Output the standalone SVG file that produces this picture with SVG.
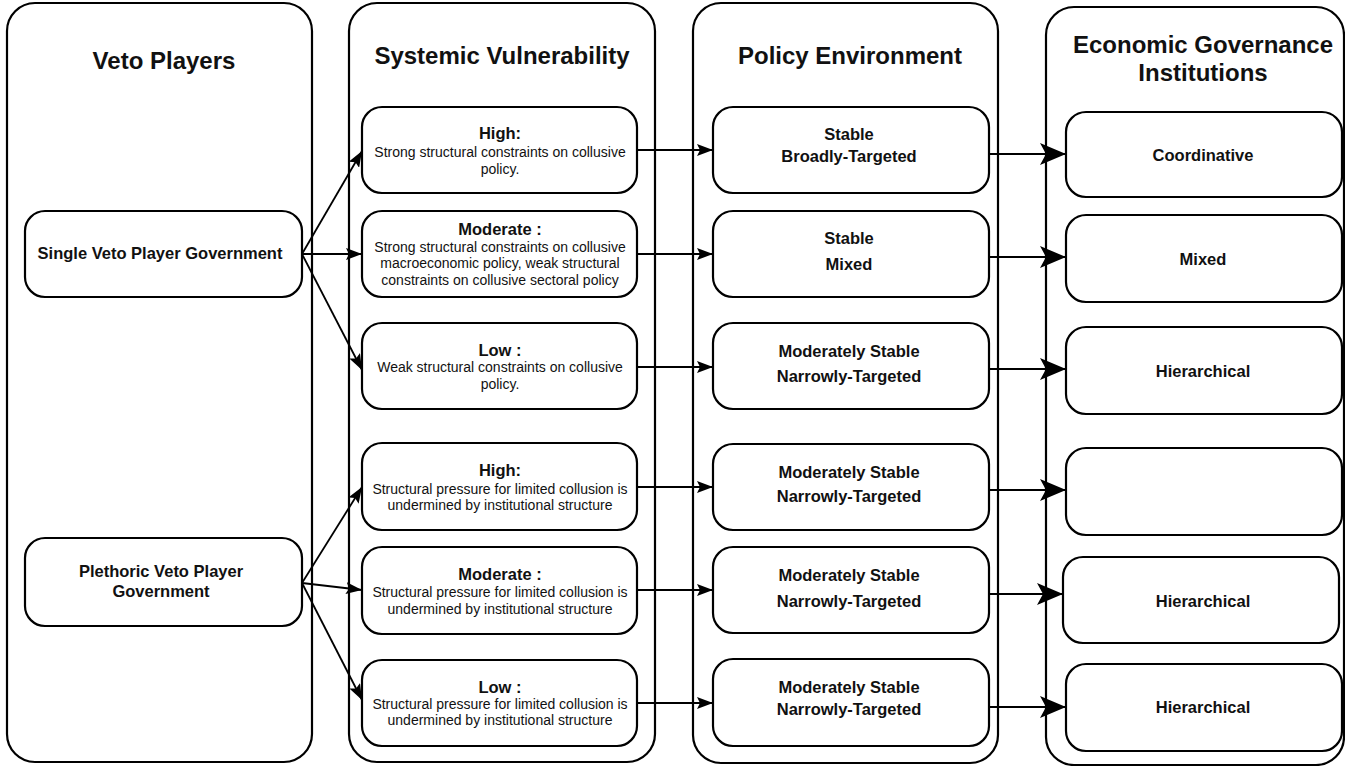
<svg xmlns="http://www.w3.org/2000/svg" width="1345" height="766" viewBox="0 0 1345 766">
<style>
.col{fill:#fff;stroke:#000;stroke-width:2.2}
.box{fill:#fff;stroke:#000;stroke-width:2.2}
.t{font-family:"Liberation Sans",Arial,sans-serif;fill:#111;text-anchor:middle}
.h{font-size:24px;font-weight:bold}
.b{font-size:16.5px;font-weight:bold}
.r{font-size:14px}
.c{fill:none;stroke:#000;stroke-width:1.8}
</style>
<defs>
<marker id="as" markerUnits="userSpaceOnUse" markerWidth="17" markerHeight="12" refX="16" refY="6" orient="auto" viewBox="0 0 17 12">
<path d="M0,0 L16,6 L0,12 L3,6 Z" fill="#000"/>
</marker>
<marker id="al" markerUnits="userSpaceOnUse" markerWidth="27" markerHeight="22" refX="26" refY="11" orient="auto" viewBox="0 0 27 22">
<path d="M0,0 L26,11 L0,22 L6,11 Z" fill="#000"/>
</marker>
</defs>
<rect width="1345" height="766" fill="#fff"/>

<g id="col-veto">
<rect class="col" x="7" y="3" width="305" height="759" rx="28"/>
<text class="t h" x="164" y="69">Veto Players</text>
</g>
<g id="col-vuln">
<rect class="col" x="349" y="3" width="306" height="759" rx="28"/>
<text class="t h" x="502" y="64">Systemic Vulnerability</text>
</g>
<g id="col-policy">
<rect class="col" x="693" y="3" width="305" height="760" rx="28"/>
<text class="t h" x="850" y="64">Policy Environment</text>
</g>
<g id="col-inst">
<rect class="col" x="1046" y="7" width="298" height="758" rx="28"/>
<text class="t h" x="1203" y="53">Economic Governance</text>
<text class="t h" x="1203" y="81">Institutions</text>
</g>

<g id="single">
<rect class="box" x="25" y="211" width="277" height="86" rx="20"/>
<text class="t b" x="160" y="259">Single Veto Player Government</text>
</g>
<g id="plethoric">
<rect class="box" x="25" y="538" width="277" height="88" rx="20"/>
<text class="t b" x="161" y="577">Plethoric Veto Player</text>
<text class="t b" x="161" y="597">Government</text>
</g>

<g id="sv-high1">
<rect class="box" x="362" y="107" width="275" height="86" rx="20"/>
<text class="t b" x="500" y="139">High:</text>
<text class="t r" x="500" y="157">Strong structural constraints on collusive</text>
<text class="t r" x="500" y="174">policy.</text>
</g>
<g id="sv-mod1">
<rect class="box" x="362" y="211" width="275" height="86" rx="20"/>
<text class="t b" x="500" y="235">Moderate :</text>
<text class="t r" x="500" y="252">Strong structural constraints on collusive</text>
<text class="t r" x="500" y="268">macroeconomic policy, weak structural</text>
<text class="t r" x="500" y="285">constraints on collusive sectoral policy</text>
</g>
<g id="sv-low1">
<rect class="box" x="362" y="323" width="275" height="86" rx="20"/>
<text class="t b" x="500" y="356">Low :</text>
<text class="t r" x="500" y="372">Weak structural constraints on collusive</text>
<text class="t r" x="500" y="389">policy.</text>
</g>
<g id="sv-high2">
<rect class="box" x="362" y="443" width="275" height="87" rx="20"/>
<text class="t b" x="500" y="476">High:</text>
<text class="t r" x="500" y="494">Structural pressure for limited collusion is</text>
<text class="t r" x="500" y="510">undermined by institutional structure</text>
</g>
<g id="sv-mod2">
<rect class="box" x="362" y="547" width="275" height="87" rx="20"/>
<text class="t b" x="500" y="580">Moderate :</text>
<text class="t r" x="500" y="597">Structural pressure for limited collusion is</text>
<text class="t r" x="500" y="614">undermined by institutional structure</text>
</g>
<g id="sv-low2">
<rect class="box" x="362" y="660" width="275" height="86" rx="20"/>
<text class="t b" x="500" y="693">Low :</text>
<text class="t r" x="500" y="709">Structural pressure for limited collusion is</text>
<text class="t r" x="500" y="725">undermined by institutional structure</text>
</g>

<g id="pe-1">
<rect class="box" x="713" y="107" width="276" height="86" rx="20"/>
<text class="t b" x="849" y="140">Stable</text>
<text class="t b" x="849" y="162">Broadly-Targeted</text>
</g>
<g id="pe-2">
<rect class="box" x="713" y="211" width="276" height="86" rx="20"/>
<text class="t b" x="849" y="244">Stable</text>
<text class="t b" x="849" y="270">Mixed</text>
</g>
<g id="pe-3">
<rect class="box" x="713" y="323" width="276" height="86" rx="20"/>
<text class="t b" x="849" y="357">Moderately Stable</text>
<text class="t b" x="849" y="382">Narrowly-Targeted</text>
</g>
<g id="pe-4">
<rect class="box" x="713" y="444" width="276" height="86" rx="20"/>
<text class="t b" x="849" y="478">Moderately Stable</text>
<text class="t b" x="849" y="502">Narrowly-Targeted</text>
</g>
<g id="pe-5">
<rect class="box" x="713" y="547" width="276" height="86" rx="20"/>
<text class="t b" x="849" y="581">Moderately Stable</text>
<text class="t b" x="849" y="607">Narrowly-Targeted</text>
</g>
<g id="pe-6">
<rect class="box" x="713" y="659" width="276" height="87" rx="20"/>
<text class="t b" x="849" y="693">Moderately Stable</text>
<text class="t b" x="849" y="715">Narrowly-Targeted</text>
</g>

<g id="gi-1">
<rect class="box" x="1066" y="112" width="276" height="85" rx="20"/>
<text class="t b" x="1203" y="161">Coordinative</text>
</g>
<g id="gi-2">
<rect class="box" x="1066" y="215" width="276" height="87" rx="20"/>
<text class="t b" x="1203" y="265">Mixed</text>
</g>
<g id="gi-3">
<rect class="box" x="1066" y="327" width="276" height="87" rx="20"/>
<text class="t b" x="1203" y="377">Hierarchical</text>
</g>
<g id="gi-4">
<rect class="box" x="1066" y="448" width="276" height="87" rx="20"/>
</g>
<g id="gi-5">
<rect class="box" x="1063" y="557" width="276" height="86" rx="20"/>
<text class="t b" x="1203" y="607">Hierarchical</text>
</g>
<g id="gi-6">
<rect class="box" x="1066" y="664" width="276" height="87" rx="20"/>
<text class="t b" x="1203" y="713">Hierarchical</text>
</g>

<g id="connectors">
<line class="c" x1="302" y1="254" x2="362" y2="151" marker-end="url(#as)"/>
<line class="c" x1="302" y1="254" x2="362" y2="254" marker-end="url(#as)"/>
<line class="c" x1="302" y1="254" x2="362" y2="370" marker-end="url(#as)"/>
<line class="c" x1="302" y1="583" x2="362" y2="487" marker-end="url(#as)"/>
<line class="c" x1="302" y1="583" x2="362" y2="590" marker-end="url(#as)"/>
<line class="c" x1="302" y1="583" x2="362" y2="700" marker-end="url(#as)"/>

<line class="c" x1="637" y1="150" x2="713" y2="150" marker-end="url(#as)"/>
<line class="c" x1="637" y1="254" x2="713" y2="254" marker-end="url(#as)"/>
<line class="c" x1="637" y1="367" x2="713" y2="367" marker-end="url(#as)"/>
<line class="c" x1="637" y1="487" x2="713" y2="487" marker-end="url(#as)"/>
<line class="c" x1="637" y1="590" x2="713" y2="590" marker-end="url(#as)"/>
<line class="c" x1="637" y1="703" x2="713" y2="703" marker-end="url(#as)"/>

<line class="c" x1="989" y1="154" x2="1066" y2="154" marker-end="url(#al)"/>
<line class="c" x1="989" y1="257" x2="1066" y2="257" marker-end="url(#al)"/>
<line class="c" x1="989" y1="369" x2="1066" y2="369" marker-end="url(#al)"/>
<line class="c" x1="989" y1="490" x2="1066" y2="490" marker-end="url(#al)"/>
<line class="c" x1="989" y1="594" x2="1063" y2="594" marker-end="url(#al)"/>
<line class="c" x1="989" y1="707" x2="1066" y2="707" marker-end="url(#al)"/>
</g>
</svg>
